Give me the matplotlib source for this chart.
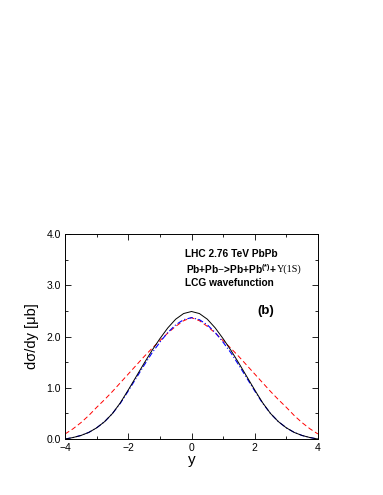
import matplotlib.pyplot as plt
from matplotlib.ticker import MultipleLocator

plt.rcParams['font.family'] = ['Liberation Sans', 'DejaVu Sans']
plt.rcParams['mathtext.fontset'] = 'custom'
plt.rcParams['mathtext.bf'] = 'Liberation Sans:bold'
plt.rcParams['mathtext.rm'] = 'Liberation Sans'

y_vals = [-4, -3.75, -3.5, -3.25, -3, -2.75, -2.5, -2.25, -2, -1.75, -1.5, -1.25,
          -1, -0.75, -0.5, -0.25, 0, 0.25, 0.5, 0.75, 1, 1.25, 1.5, 1.75,
          2, 2.25, 2.5, 2.75, 3, 3.25, 3.5, 3.75, 4]

black = [0.0, 0.03, 0.07, 0.13, 0.22, 0.34, 0.5, 0.71, 0.96, 1.22, 1.48, 1.73,
         1.96, 2.17, 2.34, 2.45, 2.49, 2.45, 2.34, 2.17, 1.96, 1.73, 1.48, 1.22,
         0.96, 0.71, 0.5, 0.34, 0.22, 0.13, 0.07, 0.03, 0.0]
blue = [0.0, 0.03, 0.07, 0.13, 0.22, 0.34, 0.5, 0.7, 0.94, 1.19, 1.44, 1.68,
        1.89, 2.08, 2.23, 2.33, 2.37, 2.33, 2.23, 2.08, 1.89, 1.68, 1.44, 1.19,
        0.94, 0.7, 0.5, 0.34, 0.22, 0.13, 0.07, 0.03, 0.0]
red = [0.1, 0.2, 0.32, 0.46, 0.62, 0.77, 0.93, 1.1, 1.27, 1.44, 1.61, 1.77,
       1.92, 2.07, 2.2, 2.31, 2.37, 2.31, 2.2, 2.07, 1.92, 1.77, 1.61, 1.44,
       1.27, 1.1, 0.93, 0.77, 0.62, 0.46, 0.32, 0.2, 0.1]

fig = plt.figure(figsize=(3.83, 4.95), dpi=100)
ax = fig.add_axes([0.170, 0.113, 0.660, 0.414])

ax.plot(y_vals, red, color='red', linestyle=(0, (5, 3)), linewidth=0.7)
ax.plot(y_vals, blue, color='blue', linestyle=(0, (5, 2, 1, 2)), linewidth=0.8)
ax.plot(y_vals, black, color='black', linewidth=0.7)

ax.set_xlim(-4, 4)
ax.set_ylim(0, 4)
ax.xaxis.set_major_locator(MultipleLocator(2))
ax.xaxis.set_minor_locator(MultipleLocator(1))
ax.yaxis.set_major_locator(MultipleLocator(1))
ax.yaxis.set_minor_locator(MultipleLocator(0.5))
ax.yaxis.set_major_formatter(plt.FormatStrFormatter('%.1f'))
ax.tick_params(which='both', direction='in', top=True, right=True,
               labelsize=7.5, width=0.6, pad=3)
ax.tick_params(which='major', length=4)
ax.tick_params(which='minor', length=2)
for s in ax.spines.values():
    s.set_linewidth(0.7)

ax.set_xlabel('y', fontsize=11, labelpad=0)
ax.set_ylabel('dσ/dy [μb]', fontsize=10.5, labelpad=5)

ax.text(-0.2, 3.62, 'LHC 2.76 TeV PbPb', fontsize=7.3, fontweight='bold', va='center')
t1 = ax.text(-0.17, 3.31, r'Pb+Pb$-$>Pb+Pb$^{\mathbf{(*)}}$+', fontsize=7.3,
             fontweight='bold', va='center')
ax.annotate('Υ(1S)', xy=(1, 0.5), xycoords=t1, va='center', ha='left',
            fontsize=7.3, family='Liberation Serif')
ax.text(-0.2, 3.05, 'LCG wavefunction', fontsize=7.3, fontweight='bold', va='center')
ax.text(2.1, 2.49, '(b)', fontsize=9.5, fontweight='bold', va='center')

fig.savefig('out.png', dpi=100)
